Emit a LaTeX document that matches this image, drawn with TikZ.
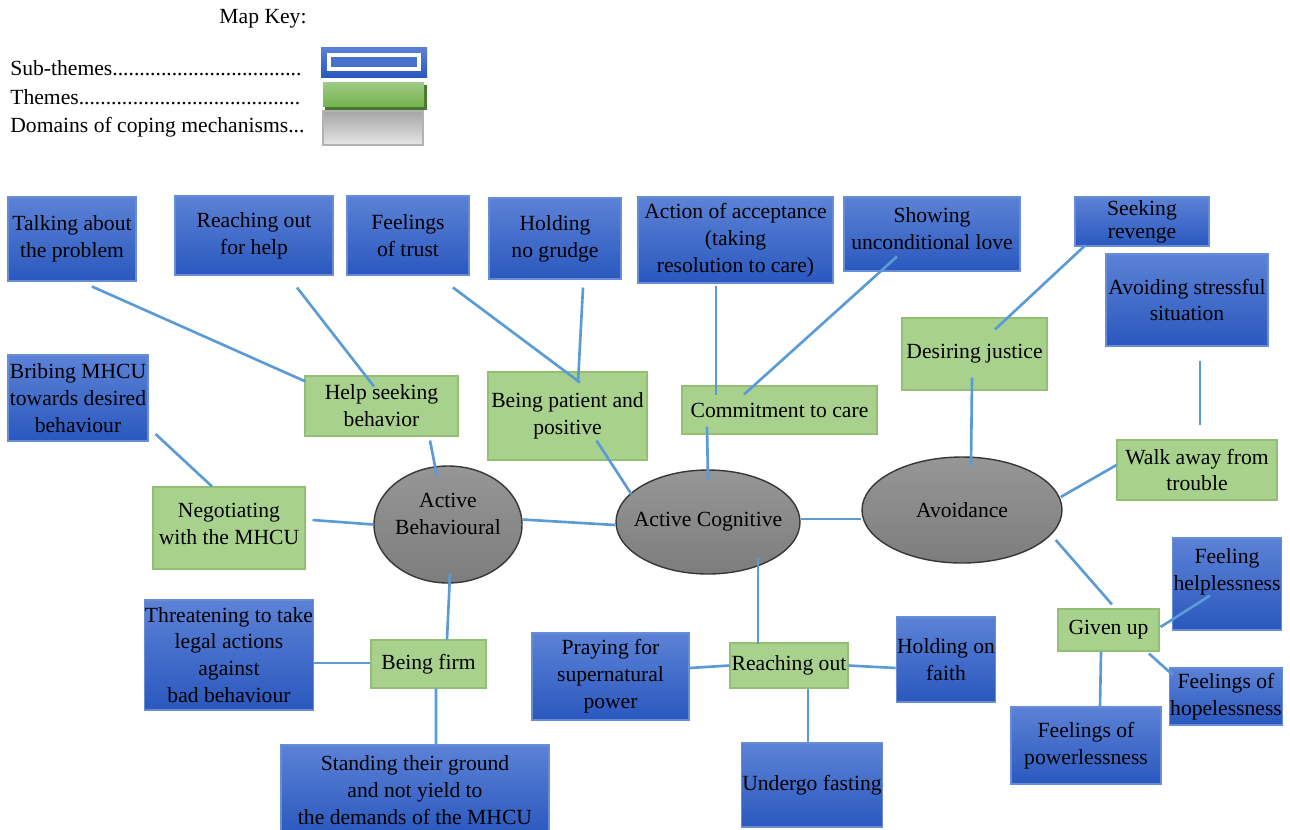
\documentclass[tikz,border=0pt]{standalone}
\usepackage{fontspec}
\setmainfont{Liberation Serif}
\usetikzlibrary{shapes.geometric,calc}
\definecolor{subtop}{RGB}{92,130,214}
\definecolor{subbot}{RGB}{42,88,190}
\definecolor{subline}{RGB}{105,140,215}
\definecolor{themefill}{RGB}{169,209,142}
\definecolor{themeline}{RGB}{145,192,115}
\definecolor{domtop}{RGB}{150,150,150}
\definecolor{dombot}{RGB}{125,125,125}
\definecolor{domline}{RGB}{55,55,55}
\definecolor{connc}{RGB}{91,155,213}
\definecolor{keygreen}{RGB}{118,180,80}
\definecolor{keygreendark}{RGB}{70,120,45}
\newlength\pxu
\setlength\pxu{0.02cm}
\tikzset{
  txt/.style={font=\fontsize{12.3}{15.3}\selectfont, text=black},
  subbox/.style={txt, draw=subline, line width=0.6pt, top color=subtop, bottom color=subbot, align=center, inner sep=0.5pt},
  themebox/.style={txt, draw=themeline, line width=0.6pt, fill=themefill, align=center, inner sep=0.5pt},
  domnode/.style={txt, ellipse, draw=domline, line width=0.8pt, top color=domtop, bottom color=dombot, align=center, inner xsep=-18pt, inner ysep=0pt},
  conn/.style={draw=connc, line width=1.5pt},
}
\begin{document}
\begin{tikzpicture}[x=0.02cm,y=-0.02cm]
\clip (0,0) rectangle (1290,829);
\fill[white] (0,0) rectangle (1290,829);

% ---------- key ----------
\node[txt] (keytitle) at (263,19) {Map Key:};
\node[txt, anchor=west, inner sep=0pt] (keysub) at (10,68) {Sub-themes...................................};
\node[txt, anchor=west, inner sep=0pt] (keytheme) at (10,97) {Themes.........................................};
\node[txt, anchor=west, inner sep=0pt] (keydom) at (10,127) {Domains of coping mechanisms...};
% sub-theme swatch
\fill[top color=subtop, bottom color=subbot] (321,47) rectangle (427,77);
\draw[white, line width=1.8pt, fill=subbot!85!white] (329,55) rectangle (419,69);
% theme swatch
\fill[keygreendark] (325,85) rectangle (427,110);
\fill[top color=keygreen!70!white, bottom color=keygreen] (323,82) rectangle (424,106);
% domain swatch
\shade[shading angle=60, top color=gray!70, bottom color=gray!20] (323,111) rectangle (423,145);
\draw[gray!60, line width=0.8pt] (323,111) rectangle (423,145);

% ---------- domains ----------
\node[domnode, minimum width=148\pxu, minimum height=117\pxu] (ab) at (448,524.5) {Active\\Behavioural\\[-8pt]\strut};
\node[domnode, minimum width=184\pxu, minimum height=104\pxu] (ac) at (708,522) {Active Cognitive};
\node[domnode, minimum width=200\pxu, minimum height=106\pxu] (av) at (962,510) {Avoidance};

% ---------- themes ----------
\node[themebox, minimum width=153\pxu, minimum height=60\pxu] (help) at (381.5,406) {Help seeking\\behavior};
\node[themebox, minimum width=159\pxu, minimum height=88\pxu] (patient) at (567.5,416) {Being patient and\\positive};
\node[themebox, minimum width=195\pxu, minimum height=48\pxu] (commit) at (779.5,410) {Commitment to care};
\node[themebox, minimum width=145\pxu, minimum height=72\pxu] (justice) at (974.5,354) {Desiring justice};
\node[themebox, minimum width=160\pxu, minimum height=60\pxu] (walk) at (1197,470) {Walk away from\\trouble};
\node[themebox, minimum width=152\pxu, minimum height=82\pxu] (negot) at (229,528) {Negotiating\\with the MHCU\\[-15pt]\strut};
\node[themebox, minimum width=115\pxu, minimum height=48\pxu] (firm) at (428.5,664) {Being firm};
\node[themebox, minimum width=118\pxu, minimum height=45\pxu] (reachout) at (789,665.5) {Reaching out};
\node[themebox, minimum width=101\pxu, minimum height=42\pxu] (givenup) at (1108.5,630) {Given up};

% ---------- sub-themes ----------
\node[subbox, minimum width=128\pxu, minimum height=84\pxu] (talk) at (72,239) {Talking about\\the problem};
\node[subbox, minimum width=158\pxu, minimum height=79\pxu] (reach) at (254,235.5) {Reaching out\\for help};
\node[subbox, minimum width=122\pxu, minimum height=79\pxu] (trust) at (408,235.5) {Feelings\\of trust};
\node[subbox, minimum width=132\pxu, minimum height=81\pxu] (grudge) at (555,238.5) {Holding\\no grudge};
\node[subbox, minimum width=195\pxu, minimum height=86\pxu] (accept) at (735.5,240) {Action of acceptance\\(taking\\resolution to care)};
\node[subbox, minimum width=176\pxu, minimum height=74\pxu] (love) at (932,234) {Showing\\unconditional love\\[-13.5pt]\strut};
\node[subbox, minimum width=134\pxu, minimum height=49\pxu, font=\fontsize{12.3}{13.2}\selectfont] (revenge) at (1142,221.5) {\strut Seeking\\revenge};
\node[subbox, minimum width=162\pxu, minimum height=92\pxu] (avoidstress) at (1187,300) {Avoiding stressful\\situation};
\node[subbox, minimum width=140\pxu, minimum height=86\pxu] (bribe) at (78,398) {Bribing MHCU\\towards desired\\behaviour};
\node[subbox, minimum width=164\pxu, minimum height=110\pxu] (threat) at (229,655) {Threatening to take\\legal actions\\against\\bad behaviour};
\node[subbox, minimum width=268\pxu, minimum height=90\pxu] (stand) at (415,790) {Standing their ground\\and not yield to\\the demands of the MHCU};
\node[subbox, minimum width=157\pxu, minimum height=87\pxu] (pray) at (610.5,676.5) {Praying for\\supernatural\\power};
\node[subbox, minimum width=98\pxu, minimum height=85\pxu] (faith) at (946,659.5) {Holding on\\faith};
\node[subbox, minimum width=140\pxu, minimum height=84\pxu] (fast) at (812,785) {Undergo fasting};
\node[subbox, minimum width=108\pxu, minimum height=92\pxu] (helpless) at (1227,584) {Feeling\\helplessness\\[-3.5pt]\strut};
\node[subbox, minimum width=110\pxu, minimum height=57\pxu] (hopeless) at (1226,696.5) {Feelings of\\hopelessness};
\node[subbox, minimum width=150\pxu, minimum height=77\pxu] (powerless) at (1086,745.5) {Feelings of\\powerlessness};

% ---------- connectors ----------
\draw[conn] ([shift={(20,5)}]talk.south) -- ([shift={(1,6)}]help.north west);
\draw[conn] ([shift={(43,12)}]reach.south) -- ([shift={(-7.5,11)}]help.north);
\draw[conn] ([shift={(45,12)}]trust.south) -- ([shift={(12.5,11)}]patient.north);
\draw[conn] ([shift={(28,8)}]grudge.south) -- ([shift={(10.5,11)}]patient.north);
\draw[conn] ([shift={(48.5,4)}]help.south) -- ([shift={(-11,11)}]ab.north);
\draw[conn] ([shift={(29,-20)}]patient.south) -- ([shift={(16,-28)}]ac.west);
\draw[conn] ([shift={(-19.5,2)}]accept.south) -- ([shift={(-63.5,10)}]commit.north);
\draw[conn] ([shift={(-35,-15)}]love.south) -- ([shift={(-35.5,9)}]commit.north);
\draw[conn] ([shift={(-72.5,-8)}]commit.south) -- ([shift={(0,10)}]ac.north);
\draw[conn] ([shift={(-57,-1)}]revenge.south) -- ([shift={(20.5,12)}]justice.north);
\draw[conn] ([shift={(-2.5,-13)}]justice.south) -- ([shift={(9,9)}]av.north);
\draw[conn] ([shift={(13,14)}]avoidstress.south) -- ([shift={(3,-14)}]walk.north);
\draw[conn] ([shift={(0,-5)}]walk.west) -- ([shift={(-2,-13)}]av.east);
\draw[conn] ([shift={(-7,30)}]av.east) -- ([shift={(3.5,-4)}]givenup.north);
\draw[conn] ([shift={(1,-3)}]givenup.east) -- ([shift={(-17,-35)}]helpless.south);
\draw[conn] ([shift={(40.5,2)}]givenup.south) -- ([shift={(4,-21.5)}]hopeless.west);
\draw[conn] ([shift={(-7.5,0)}]givenup.south) -- ([shift={(14,0)}]powerless.north);
\draw[conn] ([shift={(7,36)}]bribe.east) -- ([shift={(-17,0)}]negot.north);
\draw[conn] ([shift={(7,-8)}]negot.east) -- (ab.west);
\draw[conn] ([shift={(0,-5)}]ab.east) -- ([shift={(0,3)}]ac.west);
\draw[conn] ([shift={(0,-3)}]ac.east) -- ([shift={(0,9)}]av.west);
\draw[conn] ([shift={(2,-10)}]ab.south) -- ([shift={(18.5,0)}]firm.north);
\draw[conn] ([shift={(0,8)}]threat.east) -- ([shift={(0,-1)}]firm.west);
\draw[conn] ([shift={(7.5,0)}]firm.south) -- ([shift={(21,0)}]stand.north);
\draw[conn] ([shift={(50,-17)}]ac.south) -- ([shift={(-31,2)}]reachout.north);
\draw[conn] ([shift={(0,-8.5)}]pray.east) -- (reachout.west);
\draw[conn] (reachout.east) -- ([shift={(0,8.5)}]faith.west);
\draw[conn] ([shift={(19,0)}]reachout.south) -- ([shift={(-4,0)}]fast.north);
\end{tikzpicture}
\end{document}
